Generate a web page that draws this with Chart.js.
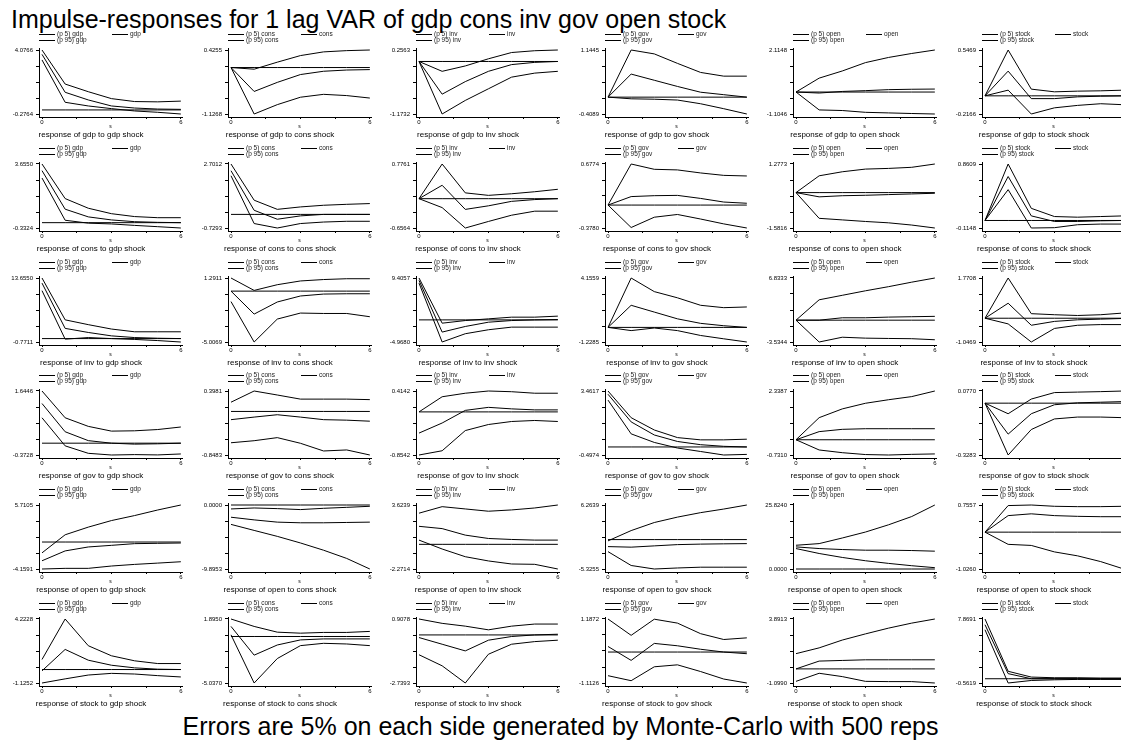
<!DOCTYPE html>
<html>
<head>
<meta charset="utf-8">
<script src="https://cdn.jsdelivr.net/npm/chart.js@4.4.1/dist/chart.umd.min.js"></script>
<style>
  body { margin: 0; width: 1121px; height: 740px; overflow: hidden; background: #fff; position: relative;
         font-family: "Liberation Sans", Arial, sans-serif; color: #000; }
  canvas { position: absolute; }
  #title { position: absolute; left: 11px; top: 7px; font-size: 25px; line-height: 25px; white-space: nowrap; }
  #note { position: absolute; left: 0; top: 714px; width: 1121px; text-align: center; font-size: 25px; line-height: 25px; white-space: nowrap; }
</style>
</head>
<body>
<div id="title">Impulse-responses for 1 lag VAR of gdp cons inv gov open stock</div>
<div id="note">Errors are 5% on each side generated by Monte-Carlo with 500 reps</div>
<script>
// variables (rows = response, columns = shock)
const vars = ['gdp', 'cons', 'inv', 'gov', 'open', 'stock'];
const steps = [0, 1, 2, 3, 4, 5, 6];
const xTicks = [0, 1.5, 3, 4.5, 6];

// axis end labels per panel
const yTop = [
  [4.0766, 0.4255, 0.2563, 1.1445, 2.1148, 0.5469],
  [3.6550, 2.7012, 0.7761, 0.6774, 1.2773, 0.8609],
  [13.6550, 1.2911, 9.4057, 4.1559, 6.8333, 1.7708],
  [1.6446, 0.3981, 0.4142, 3.4617, 2.3387, 0.0770],
  [5.7105, 0.0000, 3.6239, 6.2639, 25.8240, 0.7557],
  [4.2228, 1.8950, 0.9078, 1.1872, 3.8913, 7.8691]
];
const yBottom = [
  [-0.2764, -1.1268, -1.1732, -0.4089, -1.1046, -0.2166],
  [-0.3324, -0.7293, -0.6564, -0.3780, -1.5816, -0.1148],
  [-0.7711, -5.0069, -4.9680, -1.2285, -3.5344, -1.0469],
  [-0.3728, -0.8483, -0.8542, -0.4974, -0.7310, -0.3283],
  [-4.1591, -9.8953, -2.2714, -5.3255, 0.0000, -1.0260],
  [-1.1252, -5.0370, -2.7393, -1.1126, -1.0990, -0.5619]
];

// 95th percentile band
const p95 = [
  [[4.0766, 1.76, 1.24, 0.77, 0.57, 0.55, 0.60],
   [0, -0.04, 0.13, 0.29, 0.38, 0.41, 0.4255],
   [0, -0.22, -0.10, 0.06, 0.20, 0.24, 0.2563],
   [0, 1.1445, 1.05, 0.82, 0.60, 0.51, 0.51],
   [0, 0.70, 1.06, 1.48, 1.74, 1.94, 2.1148],
   [0, 0.5469, 0.08, 0.048, 0.056, 0.06, 0.068]],
  [[3.655, 1.50, 0.90, 0.56, 0.38, 0.31, 0.31],
   [2.7012, 0.76, 0.27, 0.40, 0.49, 0.54, 0.58],
   [0, 0.7761, 0.13, 0.074, 0.11, 0.155, 0.21],
   [0, 0.6774, 0.59, 0.58, 0.53, 0.49, 0.48],
   [0, 0.75, 0.93, 1.05, 1.08, 1.13, 1.2773],
   [0, 0.8609, 0.185, 0.06, 0.05, 0.06, 0.07]],
  [[13.655, 4.22, 3.14, 2.15, 1.53, 1.53, 1.53],
   [1.2911, 0.07, 0.63, 1.0, 1.14, 1.22, 1.22],
   [9.4057, -0.74, -0.15, 0.23, 0.61, 0.61, 0.84],
   [0, 4.1559, 3.01, 2.49, 1.86, 1.66, 1.72],
   [0, 3.30, 4.03, 4.76, 5.43, 6.16, 6.8333],
   [0, 1.7708, 0.20, 0.154, 0.12, 0.154, 0.23]],
  [[1.6446, 0.80, 0.53, 0.38, 0.39, 0.43, 0.51],
   [0.18, 0.3981, 0.32, 0.24, 0.24, 0.24, 0.23],
   [0, 0.30, 0.37, 0.4142, 0.40, 0.37, 0.37],
   [3.4617, 1.81, 1.05, 0.58, 0.44, 0.44, 0.48],
   [0, 1.06, 1.48, 1.75, 1.92, 2.07, 2.3387],
   [0, -0.067, 0.026, 0.067, 0.07, 0.073, 0.077]],
  [[-1.67, 1.12, 2.30, 3.31, 4.08, 4.94, 5.7105],
   [-0.61, -0.46, -0.56, -0.71, -0.51, -0.36, -0.20],
   [2.87, 3.47, 3.26, 3.05, 3.17, 3.35, 3.6239],
   [-0.23, 1.63, 3.09, 4.07, 4.88, 5.53, 6.2639],
   [9.58, 10.25, 12.51, 14.91, 17.84, 21.17, 25.824],
   [0, 0.74, 0.7557, 0.72, 0.71, 0.71, 0.72]],
  [[0.84, 4.2228, 1.99, 1.15, 0.73, 0.50, 0.50],
   [1.895, 1.09, 0.47, 0.36, 0.44, 0.44, 0.55],
   [0.9078, 0.66, 0.50, 0.29, 0.50, 0.62, 0.62],
   [1.1872, 0.60, 1.18, 1.04, 0.66, 0.45, 0.51],
   [1.19, 1.64, 2.25, 2.73, 3.18, 3.57, 3.8913],
   [7.8691, 0.98, 0.22, 0.13, 0.13, 0.09, 0.09]]
];

// point estimate
const irf = [
  [[3.78, 1.20, 0.68, 0.27, 0.13, 0.06, 0.04],
   [0, -0.58, -0.36, -0.17, -0.09, -0.06, -0.05],
   [0, -0.73, -0.45, -0.22, -0.07, -0.02, 0.0],
   [0, 0.56, 0.41, 0.26, 0.12, 0.06, 0.0],
   [0, -0.05, 0.03, 0.07, 0.12, 0.14, 0.15],
   [0, 0.295, -0.033, -0.033, -0.012, -0.004, 0.0]],
  [[3.24, 0.84, 0.36, 0.17, 0.06, 0.02, 0.0],
   [2.34, 0.22, -0.26, -0.08, 0.0, 0.0, 0.0],
   [0, 0.30, -0.24, -0.16, -0.06, -0.02, 0.0],
   [0, 0.14, 0.155, 0.16, 0.11, 0.05, 0.03],
   [0, -0.19, -0.14, -0.12, -0.09, -0.06, -0.03],
   [0, 0.67, 0.07, -0.015, -0.015, -0.005, 0]],
  [[12.5, 2.30, 1.38, 0.61, 0.23, 0.08, 0.0],
   [0, -2.26, -1.07, -0.48, -0.29, -0.26, -0.26],
   [8.87, -2.74, -1.48, -0.52, -0.15, 0.0, 0.08],
   [0, 1.86, 1.29, 0.72, 0.34, 0.14, 0.0],
   [0, 0.0, 0.39, 0.39, 0.50, 0.56, 0.62],
   [0, 0.66, -0.31, -0.14, -0.07, -0.04, -0.01]],
  [[1.25, 0.36, 0.08, 0.0, -0.03, -0.02, 0.0],
   [-0.16, -0.11, -0.064, -0.11, -0.16, -0.17, -0.19],
   [-0.42, -0.22, 0.03, 0.09, 0.06, 0.04, 0.04],
   [3.26, 1.55, 0.74, 0.34, 0.14, 0.04, 0.0],
   [0, 0.39, 0.50, 0.53, 0.53, 0.53, 0.53],
   [0, -0.196, -0.067, -0.01, 0.002, 0.006, 0.01]],
  [[-2.89, -1.37, -0.76, -0.51, -0.25, -0.2, -0.15],
   [-1.89, -2.30, -2.65, -2.75, -2.75, -2.70, -2.65],
   [1.66, 1.45, 0.85, 0.54, 0.45, 0.39, 0.39],
   [-1.27, -1.37, -1.14, -0.91, -0.82, -0.77, -0.73],
   [8.92, 8.25, 7.85, 7.59, 7.59, 7.45, 7.19],
   [0, 0.46, 0.51, 0.46, 0.44, 0.43, 0.43]],
  [[-0.11, 1.68, 0.78, 0.36, 0.14, 0.03, 0.0],
   [1.09, -2.02, -0.92, -0.37, -0.26, -0.26, -0.26],
   [-0.15, -0.53, -0.91, -0.30, -0.09, 0.0, 0.04],
   [0.20, -0.30, 0.31, 0.225, 0.10, 0.0, -0.06],
   [0, 0.61, 0.66, 0.71, 0.71, 0.71, 0.71],
   [7.11, 0.67, 0.0, 0.0, 0.0, 0.0, 0.0]]
];

// 5th percentile band
const p5 = [
  [[3.40, 0.52, 0.27, 0.09, -0.07, -0.16, -0.2764],
   [0, -1.1268, -0.90, -0.72, -0.65, -0.68, -0.74],
   [0, -1.1732, -0.87, -0.61, -0.35, -0.26, -0.22],
   [0, -0.04, -0.05, -0.07, -0.16, -0.28, -0.4089],
   [0, -0.90, -0.93, -1.02, -1.05, -1.08, -1.1046],
   [0, 0.068, -0.2166, -0.143, -0.114, -0.094, -0.106]],
  [[2.78, 0.15, -0.03, -0.08, -0.17, -0.25, -0.3324],
   [2.07, -0.49, -0.7293, -0.49, -0.41, -0.37, -0.37],
   [0, -0.20, -0.6564, -0.51, -0.37, -0.28, -0.28],
   [0, -0.37, -0.20, -0.155, -0.23, -0.31, -0.378],
   [0, -1.15, -1.22, -1.29, -1.35, -1.45, -1.5816],
   [0, 0.47, -0.1148, -0.11, -0.065, -0.055, -0.055]],
  [[10.8, -0.13, 0.23, 0.0, -0.19, -0.45, -0.7711],
   [-1.03, -5.0069, -2.75, -2.16, -2.2, -2.2, -2.52],
   [8.26, -4.968, -3.11, -2.22, -1.63, -1.63, -1.63],
   [0, -0.27, -0.05, -0.27, -0.68, -0.96, -1.2285],
   [0, -3.5344, -2.76, -2.91, -2.96, -3.0, -3.17],
   [0, -0.25, -1.0469, -0.45, -0.31, -0.28, -0.28]],
  [[0.80, -0.085, -0.32, -0.3728, -0.36, -0.37, -0.34],
   [-0.61, -0.57, -0.51, -0.62, -0.77, -0.75, -0.8483],
   [-0.8542, -0.77, -0.37, -0.25, -0.19, -0.17, -0.19],
   [2.90, 0.81, 0.28, -0.065, -0.28, -0.4974, -0.46],
   [0, -0.49, -0.62, -0.71, -0.731, -0.70, -0.68],
   [0, -0.3283, -0.167, -0.10, -0.088, -0.088, -0.092]],
  [[-4.1591, -4.06, -4.06, -3.7, -3.45, -3.25, -3.04],
   [-3.0, -3.93, -4.85, -5.87, -6.99, -8.26, -9.8953],
   [0.39, -0.43, -1.14, -1.53, -1.81, -1.84, -2.2714],
   [-2.18, -4.69, -5.3255, -5.14, -5.0, -5.0, -5.0],
   [8.25, 6.26, 4.66, 3.33, 2.26, 1.33, 0.53],
   [0, -0.34, -0.37, -0.55, -0.66, -0.82, -1.026]],
  [[-1.1252, -0.78, -0.46, -0.32, -0.375, -0.51, -0.62],
   [0.18, -5.037, -2.39, -0.99, -0.74, -0.81, -0.99],
   [-1.13, -1.76, -2.7393, -1.10, -0.53, -0.38, -0.30],
   [-0.85, -1.03, -0.53, -0.46, -0.70, -0.97, -1.1126],
   [-0.97, -0.34, -0.60, -0.97, -0.99, -0.99, -1.099],
   [6.45, -0.5619, -0.23, -0.14, -0.09, -0.09, -0.09]]
];

const FONT = '"Liberation Sans", Arial, sans-serif';
Chart.defaults.font.family = FONT;
Chart.defaults.color = '#000';

// small two-column key above each panel
const keyPlugin = {
  id: 'keyPlugin',
  afterDraw(chart) {
    const ctx = chart.ctx;
    const left = chart.chartArea.left;
    const ds = chart.data.datasets;
    const slots = [[0, 0, 0], [1, 0, 6], [2, 73, 0]];
    ctx.save();
    ctx.font = '6.5px ' + FONT;
    ctx.textBaseline = 'middle';
    ctx.fillStyle = '#222';
    ctx.strokeStyle = '#000';
    ctx.lineWidth = 1;
    slots.forEach(([k, dx, dy]) => {
      const x = left + dx, y = 10.5 + dy;
      ctx.beginPath();
      ctx.moveTo(x, y);
      ctx.lineTo(x + 16, y);
      ctx.stroke();
      ctx.fillText(ds[k].label, x + 18, y);
    });
    ctx.restore();
  }
};

function points(arr) {
  return steps.map((s, k) => ({ x: s, y: arr[k] }));
}

function makePanel(r, c) {
  const canvas = document.createElement('canvas');
  canvas.width = 186;
  canvas.height = 116;
  canvas.style.left = Math.round(188.6 * c) + 'px';
  canvas.style.top = Math.round(50 + 113.8 * r - 26) + 'px';
  document.body.appendChild(canvas);

  const hi = yTop[r][c], lo = yBottom[r][c], span = hi - lo;
  const shock = vars[c];
  const line = { borderColor: '#000', borderWidth: 1, pointRadius: 0, tension: 0, fill: false };

  new Chart(canvas, {
    type: 'line',
    data: {
      datasets: [
        Object.assign({ label: '(p 5) ' + shock, data: points(p5[r][c]) }, line),
        Object.assign({ label: '(p 95) ' + shock, data: points(p95[r][c]) }, line),
        Object.assign({ label: shock, data: points(irf[r][c]) }, line),
        Object.assign({ label: 'zero', data: steps.map(s => ({ x: s, y: 0 })) }, line)
      ]
    },
    options: {
      responsive: false,
      animation: false,
      devicePixelRatio: 1,
      events: [],
      layout: { padding: { top: 24, right: 4, bottom: 0.4, left: 0 } },
      plugins: {
        legend: { display: false },
        tooltip: { enabled: false },
        title: {
          display: true,
          position: 'bottom',
          text: 'response of ' + vars[r] + ' to ' + shock + ' shock',
          font: { size: 8, weight: 'normal' },
          color: '#000',
          padding: 0
        }
      },
      scales: {
        x: {
          type: 'linear',
          min: -0.13,
          max: 6.05,
          afterBuildTicks: s => { s.ticks = xTicks.map(v => ({ value: v })); },
          afterFit: s => { s.height = 13; },
          ticks: {
            autoSkip: false, maxRotation: 0, padding: 0,
            font: { size: 6 }, color: '#000',
            callback: v => (v === 0 ? '0' : v === 6 ? '6' : '')
          },
          grid: { drawOnChartArea: false, tickLength: 2, color: '#000' },
          border: { color: '#000', width: 1 },
          title: { display: true, text: 's', font: { size: 5 }, color: '#000', padding: 0 }
        },
        y: {
          min: lo - span * 3 / 64,
          max: hi + span * 2 / 64,
          afterBuildTicks: s => { s.ticks = [0, 1, 2, 3, 4].map(k => ({ value: lo + span * k / 4 })); },
          afterFit: s => { s.width = 39; },
          ticks: {
            autoSkip: false, padding: 3,
            font: { size: 6 }, color: '#000',
            callback: (v, i) => (i === 0 ? lo.toFixed(4) : i === 4 ? hi.toFixed(4) : '')
          },
          grid: { drawOnChartArea: false, tickLength: 3, color: '#000' },
          border: { color: '#000', width: 1 }
        }
      }
    },
    plugins: [keyPlugin]
  });
}

for (let r = 0; r < 6; r++) {
  for (let c = 0; c < 6; c++) makePanel(r, c);
}
</script>
</body>
</html>
